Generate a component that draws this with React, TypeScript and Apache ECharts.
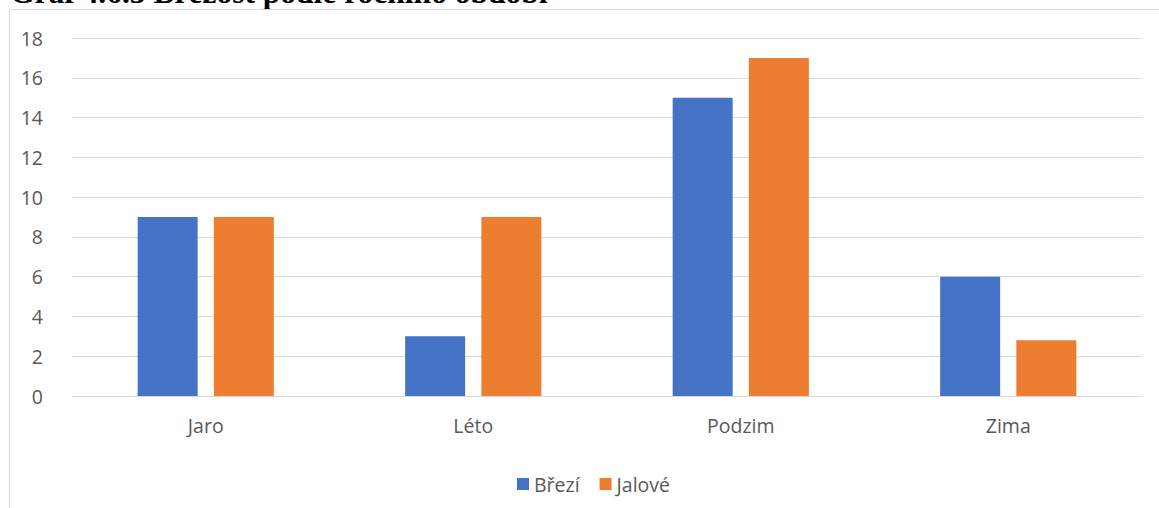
import React, { useEffect, useRef } from "react";
import * as echarts from "echarts";

const categories = ["Jaro", "Léto", "Podzim", "Zima"];
const brezi = [9, 3, 15, 6];
const jalove = [9, 9, 17, 2.8];
const seriesNames = ["Březí", "Jalové"];
const titleText = "Graf 4.6.3 Březost podle ročního období";

export default function App() {
  const ref = useRef<HTMLDivElement>(null);
  useEffect(() => {
    if (!ref.current) return;
    const chart = echarts.init(ref.current, undefined, { renderer: "svg" });
    const font = "Open Sans";
    chart.setOption({
      animation: false,
      backgroundColor: "#ffffff",
      textStyle: { fontFamily: font },
      graphic: [
        {
          type: "text",
          x: 10,
          y: 8,
          z: 0,
          style: {
            text: titleText,
            font: "bold 31.5px 'Liberation Serif'",
            fill: "#000000",
            textVerticalAlign: "bottom",
            verticalAlign: "alphabetic",
          },
        },
        {
          type: "rect",
          z: 1,
          shape: { x: 9.5, y: 9.5, width: 1200, height: 600 },
          style: { fill: "#ffffff", stroke: "#d9d9d9", lineWidth: 1 },
        },
      ],
      grid: { left: 72, right: 17, top: 38, bottom: 112, containLabel: false, z: 5 },
      legend: {
        show: true,
        left: 512,
        top: 469,
        itemWidth: 12,
        itemHeight: 12,
        itemGap: 20,
        z: 10,
        icon: "rect",
        textStyle: { color: "#595959", fontSize: 19.5, fontFamily: font },
        data: seriesNames,
      },
      xAxis: {
        type: "category",
        data: categories,
        z: 5,
        axisLine: { lineStyle: { color: "#d9d9d9", width: 1.2 } },
        axisTick: { show: false },
        axisLabel: { color: "#595959", fontSize: 19.5, margin: 19, fontFamily: font },
      },
      yAxis: {
        type: "value",
        min: 0,
        max: 18,
        interval: 2,
        z: 5,
        axisLine: { show: false },
        axisTick: { show: false },
        splitLine: { lineStyle: { color: "#d9d9d9", width: 1.2 } },
        axisLabel: { color: "#595959", fontSize: 19.5, margin: 29, fontFamily: font },
      },
      series: [
        {
          name: seriesNames[0],
          type: "bar",
          data: brezi,
          barWidth: 60,
          barGap: "27%",
          z: 6,
          itemStyle: { color: "#4472C4" },
        },
        {
          name: seriesNames[1],
          type: "bar",
          data: jalove,
          barWidth: 60,
          barGap: "27%",
          z: 6,
          itemStyle: { color: "#ED7D31" },
        },
      ],
    });
    return () => chart.dispose();
  }, []);
  return (
    <div
      ref={ref}
      style={{ position: "fixed", left: 0, top: 0, width: 1159, height: 508 }}
    />
  );
}
